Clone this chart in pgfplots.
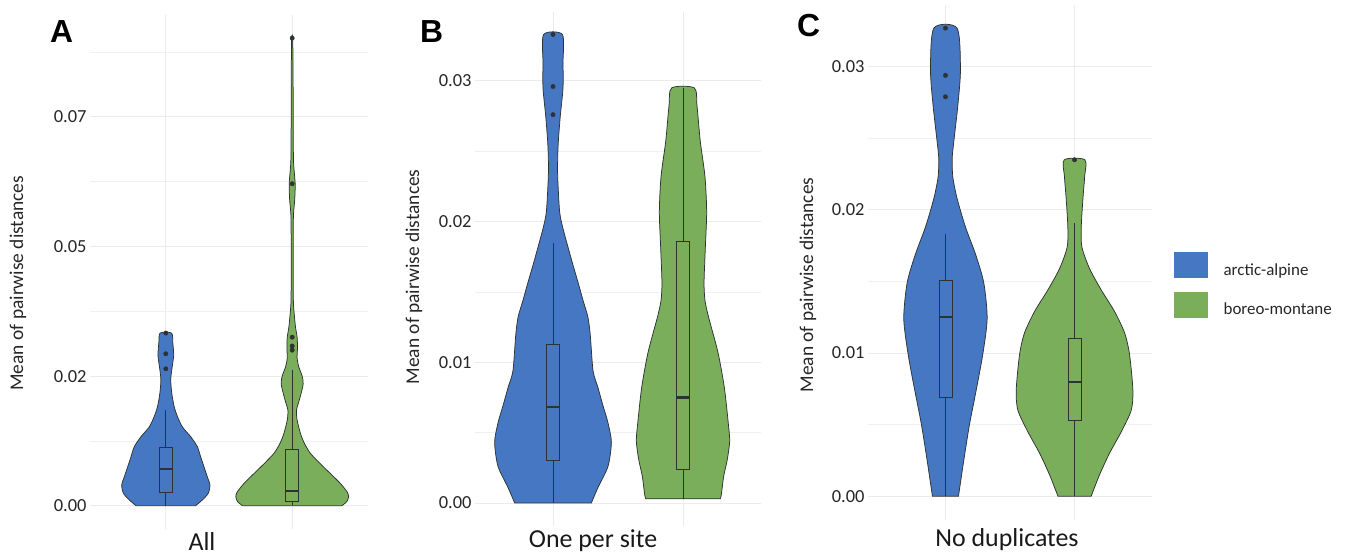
\documentclass[border=0pt]{standalone}
\usepackage{pgfplots}
\pgfplotsset{compat=1.18}
\usepackage{pgfplotstable}
\usepackage{fontspec}
\setmainfont{Carlito}
\newfontfamily\panelfont{Liberation Sans}
\definecolor{cblue}{RGB}{70,119,194}
\definecolor{cgreen}{RGB}{122,174,90}
\definecolor{outl}{RGB}{45,50,50}
\definecolor{gridgray}{RGB}{235,235,235}

% violin profiles: y value, half-width (in category units)
\pgfplotstableread{
y hw
0.0000 0.236
0.0011 0.289
0.0024 0.336
0.0040 0.349
0.0056 0.328
0.0075 0.302
0.0094 0.276
0.0114 0.249
0.0133 0.197
0.0152 0.131
0.0172 0.092
0.0191 0.066
0.0217 0.047
0.0242 0.039
0.0262 0.047
0.0290 0.062
0.0315 0.055
0.0333 0.045
}\blueA
\pgfplotstableread{
y hw
0.0000 0.394
0.0008 0.433
0.0017 0.446
0.0026 0.436
0.0043 0.381
0.0062 0.302
0.0082 0.218
0.0101 0.144
0.0120 0.097
0.0139 0.066
0.0165 0.039
0.0184 0.034
0.0200 0.052
0.0217 0.071
0.0235 0.087
0.0250 0.079
0.0268 0.052
0.0285 0.039
0.0305 0.042
0.0325 0.039
0.0345 0.026
0.0365 0.018
0.0390 0.010
0.0430 0.008
0.0500 0.008
0.0560 0.010
0.0590 0.020
0.0620 0.024
0.0645 0.016
0.0670 0.010
0.0750 0.008
0.0840 0.007
0.0902 0.004
}\greenA
\pgfplotstableread{
y hw
0.0000 0.295
0.0011 0.346
0.0026 0.423
0.0043 0.449
0.0057 0.423
0.0069 0.385
0.0082 0.346
0.0094 0.308
0.0119 0.287
0.0132 0.269
0.0144 0.231
0.0157 0.192
0.0169 0.154
0.0182 0.115
0.0195 0.077
0.0207 0.051
0.0232 0.036
0.0245 0.036
0.0257 0.041
0.0275 0.056
0.0295 0.077
0.0313 0.077
0.0333 0.072
}\blueB
\pgfplotstableread{
y hw
0.0003 0.287
0.0006 0.295
0.0019 0.313
0.0031 0.341
0.0044 0.359
0.0056 0.349
0.0082 0.318
0.0107 0.269
0.0132 0.197
0.0144 0.169
0.0157 0.162
0.0182 0.172
0.0207 0.182
0.0232 0.169
0.0257 0.133
0.0282 0.108
0.0295 0.087
}\greenB
\pgfplotstableread{
y hw
0.0000 0.101
0.0025 0.142
0.0050 0.186
0.0074 0.238
0.0099 0.289
0.0124 0.323
0.0149 0.297
0.0169 0.233
0.0188 0.155
0.0208 0.090
0.0223 0.057
0.0236 0.052
0.0248 0.065
0.0273 0.096
0.0298 0.116
0.0327 0.090
}\blueC
\pgfplotstableread{
y hw
0.0000 0.129
0.0015 0.194
0.0030 0.271
0.0045 0.362
0.0060 0.439
0.0074 0.452
0.0099 0.426
0.0114 0.388
0.0129 0.310
0.0144 0.207
0.0159 0.116
0.0174 0.057
0.0188 0.052
0.0208 0.065
0.0223 0.078
0.0235 0.080
}\greenC

% closed outline for each violin: right side upwards (s=1), left side downwards (s=-1)
\newcommand\makeviolin[1]{%
  \pgfplotstablesort[sort key=y, sort cmp=float >]{\vrevtab}{#1}%
  \pgfplotstablecreatecol[expr={1}]{s}{#1}%
  \pgfplotstablecreatecol[expr={-1}]{s}{\vrevtab}%
  \pgfplotstablevertcat{#1}{\vrevtab}%
}
\makeviolin{\blueA}\makeviolin{\greenA}
\makeviolin{\blueB}\makeviolin{\greenB}
\makeviolin{\blueC}\makeviolin{\greenC}

\pgfplotsset{
  vstyle/.style={
    scale only axis, anchor=south west,
    y coord trafo/.code={\pgfmathparse{(##1)*1000}},
    y coord inv trafo/.code={\pgfmathparse{(##1)/1000}},
    xmin=0.4, xmax=2.6, xtick={1,2}, xticklabels={},
    xmajorgrids, ymajorgrids, yminorgrids,
    major grid style={draw=gridgray, line width=0.9bp},
    minor grid style={draw=gridgray!75, line width=0.6bp},
    axis line style={draw=none}, tick style={draw=none},
    major tick length=0pt, minor tick length=0pt,
    yticklabel style={font=\fontsize{18.5}{20}\selectfont, text=black!85},
    ylabel={Mean of pairwise distances},
    ylabel style={font=\fontsize{19.5}{22}\selectfont, text=black!85},
    xlabel style={font=\fontsize{26}{28}\selectfont, text=black!90, anchor=base},
  },
  outpts/.style={only marks, mark=*, mark size=2.2bp, mark options={fill=outl, draw=outl}, forget plot},
}
% box plot: #1 position, #2 lower whisker, #3 lower quartile, #4 median, #5 upper quartile, #6 upper whisker
\newcommand\bplot[6]{%
  \addplot[draw=outl, line width=0.8bp, forget plot] coordinates {(#1-0.05,#3) (#1+0.05,#3) (#1+0.05,#5) (#1-0.05,#5)} -- cycle;
  \addplot[draw=outl, line width=0.8bp, forget plot] coordinates {(#1,#2) (#1,#3)};
  \addplot[draw=outl, line width=0.8bp, forget plot] coordinates {(#1,#5) (#1,#6)};
  \addplot[draw=outl, line width=2.1bp, forget plot] coordinates {(#1-0.05,#4) (#1+0.05,#4)};
}
\newcommand\violin[3]{% #1 position, #2 table, #3 colour
  \addplot[fill=#3, draw=outl, line width=0.75bp, smooth, tension=0.45, forget plot]
    table[x expr=#1+\thisrow{s}*\thisrow{hw}, y=y] {#2} -- cycle;
}

\begin{document}
\begin{tikzpicture}

% ---------------- Panel A ----------------
\begin{axis}[vstyle, at={(90bp,26bp)}, width=278bp, height=514.2bp,
  ymin=-0.0045, ymax=0.0947,
  ytick={0,0.025,0.05,0.075}, yticklabels={0.00,0.02,0.05,0.07},
  minor ytick={0.0125,0.0375,0.0625,0.0875},
  xlabel={All},
  xlabel style={at={(axis description cs:0.5,0)}, xshift=-27bp, yshift=-21bp},
  ylabel style={at={(axis description cs:0,0.478)}, anchor=center, yshift=72bp},
]
\violin{1}{\blueA}{cblue}
\violin{2}{\greenA}{cgreen}
\bplot{1}{0}{0.0026}{0.0070}{0.0112}{0.0184}
\bplot{2}{0.0002}{0.0009}{0.0029}{0.0109}{0.0262}
\addplot[outpts] coordinates {(1,0.0333) (1,0.0293) (1,0.0264)};
\addplot[outpts] coordinates {(2,0.0902) (2,0.0621) (2,0.0325) (2,0.0308) (2,0.0300)};
\end{axis}
\node[font=\panelfont\bfseries\fontsize{32}{34}\selectfont, anchor=base west, inner sep=0pt] at (50bp,512bp) {A};

% ---------------- Panel B ----------------
\begin{axis}[vstyle, at={(475bp,28.6bp)}, width=286bp, height=514.4bp,
  ymin=-0.00166, ymax=0.0349,
  ytick={0,0.01,0.02,0.03}, yticklabels={0.00,0.01,0.02,0.03},
  minor ytick={0.005,0.015,0.025},
  xlabel={One per site},
  xlabel style={at={(axis description cs:0.5,0)}, xshift=-25bp, yshift=-21.5bp},
  ylabel style={at={(axis description cs:0,0.485)}, anchor=center, yshift=61bp},
]
\violin{1}{\blueB}{cblue}
\violin{2}{\greenB}{cgreen}
\bplot{1}{0}{0.0030}{0.0068}{0.0113}{0.0185}
\bplot{2}{0.0003}{0.0024}{0.0075}{0.0186}{0.0295}
\addplot[outpts] coordinates {(1,0.0333) (1,0.0296) (1,0.0276)};
\end{axis}
\node[font=\panelfont\bfseries\fontsize{32}{34}\selectfont, anchor=base west, inner sep=0pt] at (420bp,512bp) {B};

% ---------------- Panel C ----------------
\begin{axis}[vstyle, at={(868bp,35.5bp)}, width=284bp, height=514.3bp,
  ymin=-0.00164, ymax=0.0343,
  ytick={0,0.01,0.02,0.03}, yticklabels={0.00,0.01,0.02,0.03},
  minor ytick={0.005,0.015,0.025},
  xlabel={No duplicates},
  xlabel style={at={(axis description cs:0.5,0)}, xshift=-3bp, yshift=-26.5bp},
  ylabel style={at={(axis description cs:0,0.456)}, anchor=center, yshift=60bp},
  legend style={at={(axis description cs:1.0775,0.520)}, anchor=north west,
    draw=none, fill=none, inner sep=0pt, row sep=15bp,
    font=\fontsize{17}{19}\selectfont, text=black!85,
    nodes={inner sep=0pt},
    /tikz/every odd column/.append style={column sep=16bp}},
  legend cell align=left,
]
\violin{1}{\blueC}{cblue}
\violin{2}{\greenC}{cgreen}
\bplot{1}{0}{0.0069}{0.0125}{0.0151}{0.0183}
\bplot{2}{0}{0.0053}{0.0080}{0.0110}{0.0191}
\addplot[outpts] coordinates {(1,0.0327) (1,0.0294) (1,0.0279)};
\addplot[outpts] coordinates {(2,0.0235)};
\addlegendimage{legend image code/.code={\fill[cblue] (0bp,-7bp) rectangle (33bp,17.5bp);}}
\addlegendentry{arctic-alpine}
\addlegendimage{legend image code/.code={\fill[cgreen] (0bp,-7bp) rectangle (33bp,17.5bp);}}
\addlegendentry{boreo-montane}
\end{axis}
\node[font=\panelfont\bfseries\fontsize{32}{34}\selectfont, anchor=base west, inner sep=0pt] at (797bp,518bp) {C};
\pgfresetboundingbox
\path[use as bounding box] (0,0) rectangle (1350bp,555bp);
\end{tikzpicture}
\end{document}
